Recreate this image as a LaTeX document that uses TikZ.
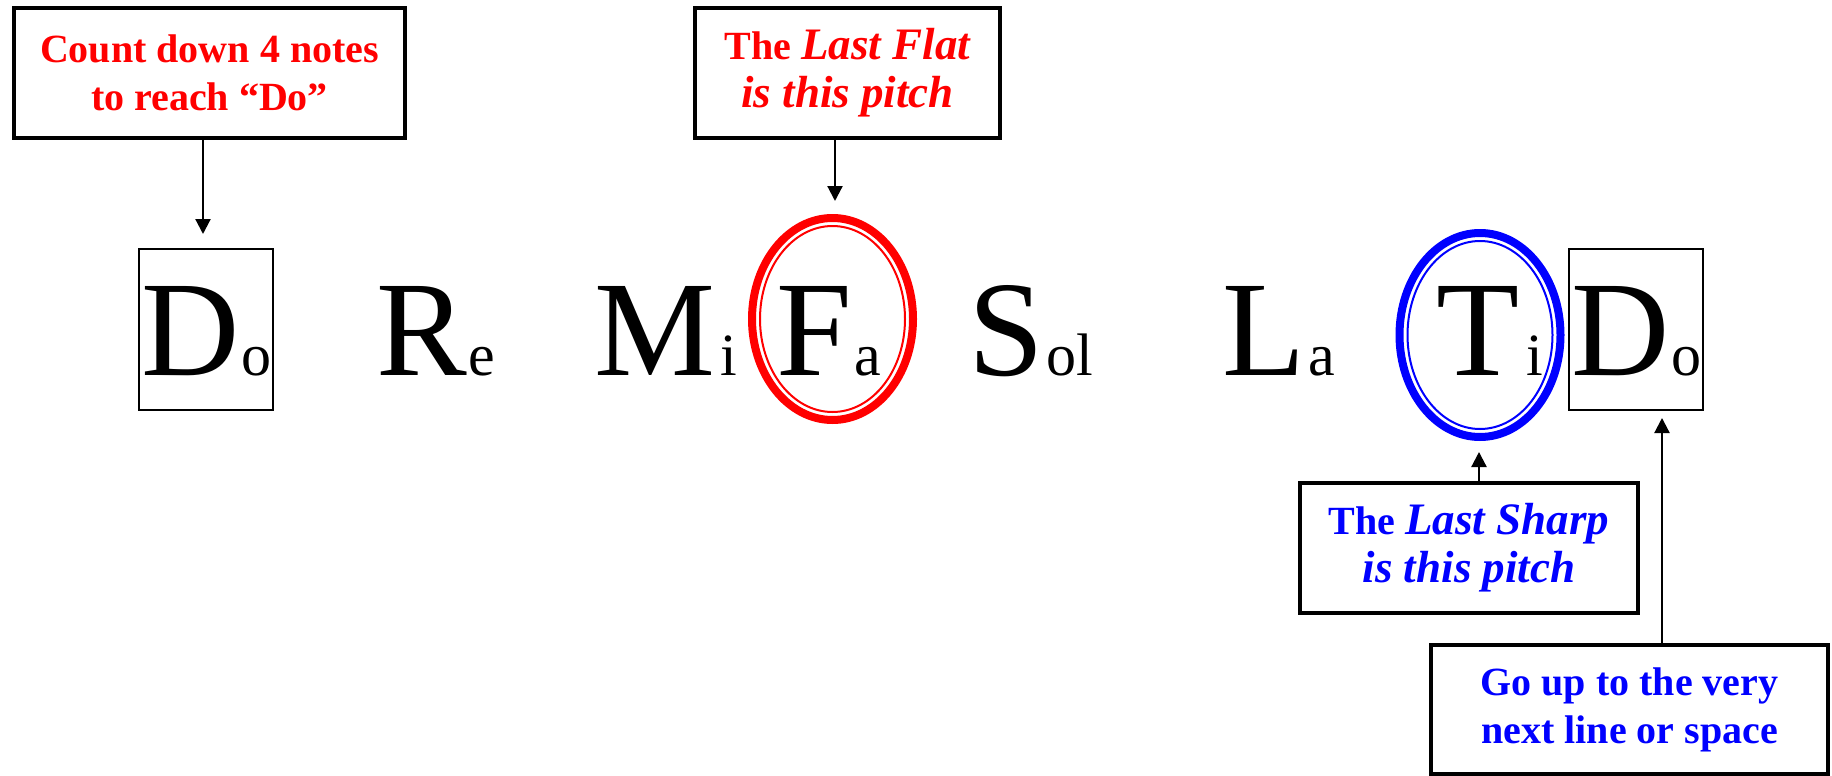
\documentclass[tikz,border=0pt]{standalone}
\usepackage{fontspec}
\setmainfont{Liberation Serif}
\usetikzlibrary{shapes.geometric,arrows.meta}
\definecolor{fred}{RGB}{255,0,0}
\definecolor{fblue}{RGB}{0,0,255}
\newcommand{\calit}[1]{{\fontsize{22.5}{24}\selectfont\itshape #1}}
\begin{document}
\begin{tikzpicture}[x=0.5pt,y=-0.5pt,
  big/.style={inner sep=0pt, anchor=base west, font=\fontsize{68}{68}\selectfont},
  small/.style={inner sep=0pt, anchor=base west, font=\fontsize{30}{30}\selectfont},
  callout/.style={draw, line width=1.75pt, align=center, minimum height=65pt, inner sep=0pt, font=\fontsize{20}{24}\selectfont\bfseries},
  dobox/.style={draw, line width=1.1pt, minimum width=67pt, minimum height=80.5pt, inner sep=0pt},
  ringout/.style={draw, ellipse, line width=4pt, minimum width=80.5pt, minimum height=101pt, inner sep=0pt},
  ringin/.style={draw, ellipse, line width=1pt, minimum width=72.5pt, minimum height=93pt, inner sep=0pt},
  arr/.style={line width=1.1pt, -{Triangle[length=7.5pt,width=7.5pt]}},
]
\useasboundingbox[fill=white] (0,0) rectangle (1832,776);

% syllables
\node[big] (D1) at (141,375) {D};
\node[small] (o1) at ([xshift=0.5pt]D1.base east) {o};
\node[big] (R) at (376,375) {R};
\node[small] (e) at ([xshift=0.5pt]R.base east) {e};
\node[big] (M) at (594,375) {M};
\node[small] (i1) at ([xshift=2pt]M.base east) {i};
\node[big] (F) at (776,375) {F};
\node[small] (a1) at ([xshift=1pt]F.base east) {a};
\node[big] (S) at (968,375) {S};
\node[small] (ol) at ([xshift=1pt]S.base east) {ol};
\node[big] (L) at (1222,375) {L};
\node[small] (a2) at ([xshift=1pt]L.base east) {a};
\node[big] (T) at (1436,375) {T};
\node[small] (i2) at ([xshift=3pt]T.base east) {i};
\node[big] (D2) at (1571,375) {D};
\node[small] (o2) at ([xshift=0.5pt]D2.base east) {o};

% Do boxes
\node[dobox] (dobox1) at (206,329.5) {};
\node[dobox] (dobox2) at (1636,329.5) {};

% rings
\node[ringout, draw=fred] (faring) at (832.5,319) {};
\node[ringin, draw=fred] (faringin) at (832.5,319) {};
\node[ringout, draw=fblue, minimum height=102pt] (tiring) at (1480,335) {};
\node[ringin, draw=fblue, minimum height=94pt] (tiringin) at (1480,335) {};

% callouts
\node[callout, text=fred, minimum width=195.5pt] (box1) at (209.5,73) {Count down 4 notes\\to reach “Do”};
\node[callout, text=fred, minimum width=152.5pt] (box2) at (847.5,73) {The \calit{Last Flat}\\\calit{is this pitch}};
\node[callout, text=fblue, minimum width=169pt] (box3) at (1469,548) {The \calit{Last Sharp}\\\calit{is this pitch}};
\node[callout, text=fblue, minimum width=198.5pt, minimum height=64.5pt] (box4) at (1629.5,709.5) {Go up to the very\\next line or space};

% arrow ends
\coordinate (t1) at (203,234);
\coordinate (t2) at (835,201);
\coordinate (t3) at (1479,452);
\coordinate (t4) at (1662,418);

\draw[arr] (box1.south -| t1) -- (t1);
\draw[arr] (box2.south -| t2) -- (t2);
\draw[arr] (box3.north -| t3) -- (t3);
\draw[arr] (box4.north -| t4) -- (t4);
\end{tikzpicture}
\end{document}
